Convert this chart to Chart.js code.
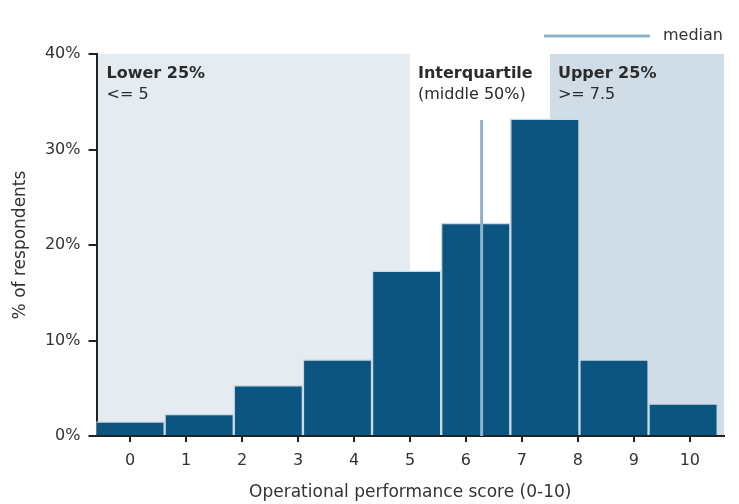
<!DOCTYPE html>
<html>
<head>
<meta charset="utf-8">
<script src="https://cdn.jsdelivr.net/npm/chart.js@4.4.1/dist/chart.umd.min.js"></script>
<style>
html,body{margin:0;padding:0;background:#fff;}
#wrap{width:739px;height:504px;}
</style>
</head>
<body>
<div id="wrap"><canvas id="chart"></canvas></div>
<script>
// histogram bins (centre of each bin on the 0-10 score axis) and share of respondents
const binCenters=[0,1.235,2.47,3.705,4.94,6.175,7.41,8.645,9.88];
const respondents=[1.5,2.3,5.3,8.0,17.3,22.3,33.2,8.0,3.4];
const scoreTicks=[0,1,2,3,4,5,6,7,8,9,10];
const pctTicks=[0,10,20,30,40];
const medianScore=6.28;
const medianTop=33.1;
// quartile bands
const bandFrom=[-0.6,5,7.5];
const bandTo=[5,7.5,10.61];
const bandTitle=['Lower 25%','Interquartile','Upper 25%'];
const bandSub=['<= 5','(middle 50%)','>= 7.5'];

const FONT='"DejaVu Sans", sans-serif';
const bandColors=['#e4ecf1','#ffffff','#d0dde6'];

const bandPlugin={
    id:'bands',
    beforeDraw(chart){
        const {ctx,chartArea:a,scales:{x,y}}=chart;
        const top=y.getPixelForValue(pctTicks[pctTicks.length-1]);
        const bottom=y.getPixelForValue(0);
        ctx.save();
        bandFrom.forEach((f,i)=>{
            const l=Math.max(a.left,x.getPixelForValue(f));
            const r=Math.min(a.right,x.getPixelForValue(bandTo[i]));
            ctx.fillStyle=bandColors[i];
            ctx.fillRect(l,top,r-l,bottom-top);
        });
        ctx.restore();
    },
    afterDatasetsDraw(chart){
        const {ctx,chartArea:a,scales:{x,y}}=chart;
        const top=y.getPixelForValue(pctTicks[pctTicks.length-1]);
        ctx.save();
        ctx.fillStyle='#2b2b2b';
        ctx.textAlign='left';
        ctx.textBaseline='alphabetic';
        bandFrom.forEach((f,i)=>{
            const l=Math.max(a.left+2,x.getPixelForValue(f))+8;
            ctx.font='bold 16px '+FONT;
            ctx.fillText(bandTitle[i],l,top+24);
            ctx.font='16px '+FONT;
            ctx.fillText(bandSub[i],l,top+45);
        });
        ctx.restore();
    }
};

new Chart(document.getElementById('chart'),{
    type:'bar',
    data:{
        datasets:[
            {
                type:'line',
                label:' median',
                data:[{x:medianScore,y:0},{x:medianScore,y:medianTop}],
                xAxisID:'x',
                yAxisID:'y',
                borderColor:'#8cb3ca',
                backgroundColor:'#8cb3ca',
                borderWidth:3,
                pointRadius:0,
                order:0
            },
            {
                label:'% of respondents',
                data:binCenters.map((c,i)=>({x:c,y:respondents[i]})),
                xAxisID:'xb',
                yAxisID:'y',
                backgroundColor:'#0d5581',
                borderColor:'#cbd9e3',
                borderWidth:1.5,
                barPercentage:1,
                categoryPercentage:1,
                grouped:false,
                order:1
            }
        ]
    },
    options:{
        responsive:true,
        maintainAspectRatio:false,
        animation:false,
        layout:{padding:{top:0,right:9,bottom:0,left:0}},
        plugins:{
            tooltip:{enabled:false},
            legend:{
                position:'top',
                align:'end',
                labels:{
                    boxWidth:106,
                    boxHeight:3,
                    padding:7,
                    color:'#333',
                    font:{family:FONT,size:16},
                    generateLabels(chart){
                        const items=Chart.defaults.plugins.legend.labels.generateLabels(chart);
                        return items.filter(it=>it.text.trim()==='median').map(it=>Object.assign(it,{lineWidth:0}));
                    }
                }
            }
        },
        scales:{
            xb:{
                type:'linear',
                display:false,
                min:-0.6,
                max:10.61,
                offset:false,
                grid:{offset:false},
                ticks:{count:2}
            },
            x:{
                type:'linear',
                position:'bottom',
                min:-0.6,
                max:10.61,
                offset:false,
                afterBuildTicks(s){s.ticks=scoreTicks.map(v=>({value:v}));},
                ticks:{autoSkip:false,maxRotation:0,color:'#333',font:{family:FONT,size:16},padding:9},
                grid:{drawOnChartArea:false,offset:false,color:'#222',lineWidth:2,tickLength:6},
                border:{color:'#222',width:2},
                title:{display:true,text:'Operational performance score (0-10)',color:'#333',font:{family:FONT,size:17},padding:{top:0,bottom:1}},
                afterFit(s){s.height=68;}
            },
            y:{
                min:0,
                max:40,
                afterBuildTicks(s){s.ticks=pctTicks.map(v=>({value:v}));},
                ticks:{callback:v=>v+'%',color:'#333',font:{family:FONT,size:16},padding:8},
                grid:{drawOnChartArea:false,color:'#222',lineWidth:2,tickLength:8},
                border:{color:'#222',width:2},
                title:{display:true,text:'% of respondents',color:'#333',font:{family:FONT,size:17},padding:{top:10,bottom:0}},
                afterFit(s){s.width=96.5;s.paddingTop=54;}
            },
            yr:{
                position:'right',
                min:0,
                max:40,
                ticks:{display:false},
                grid:{display:false},
                border:{display:false},
                afterFit(s){s.width=6;}
            }
        }
    },
    plugins:[bandPlugin]
});
</script>
</body>
</html>
